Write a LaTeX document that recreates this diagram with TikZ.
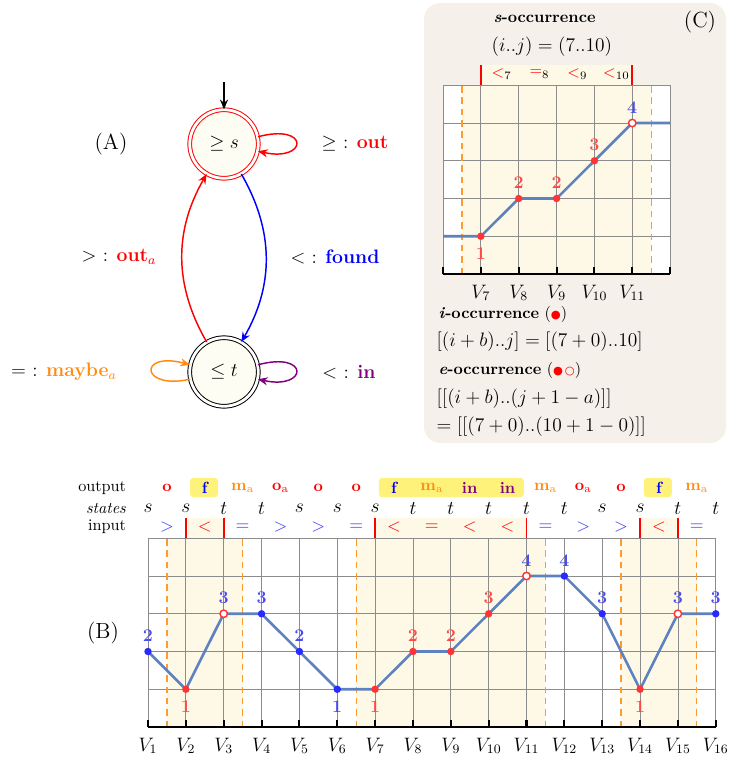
\documentclass[tikz,border=0pt]{standalone}
\usepackage{fontspec}
\newfontfamily\symfont{DejaVu Sans}
\usetikzlibrary{arrows.meta}
\definecolor{ptred}{HTML}{FF3535}
\definecolor{ptblue}{HTML}{2A2AFF}
\definecolor{lblred}{HTML}{FF4848}
\definecolor{lblblue}{HTML}{4A4AF0}
\definecolor{steel}{HTML}{5E82BF}
\definecolor{ylshade}{HTML}{FEF9E6}
\definecolor{hl}{HTML}{FFF27A}
\definecolor{beige}{HTML}{F6F0EB}
\definecolor{gridc}{HTML}{8C8C8C}
\definecolor{dorange}{HTML}{FF9A2E}
\definecolor{myorange}{HTML}{FF8C10}
\definecolor{mypurple}{HTML}{800080}
\definecolor{inblue}{HTML}{3B3BFF}
\definecolor{nodefill}{HTML}{FDFDF3}
\tikzset{
  state/.style={circle, minimum size=42.3pt, draw, double, double distance=1.7pt, line width=0.6pt, fill=nodefill, font=\large},
  lab/.style={font=\large},
  tag/.style={font=\fontsize{13.5}{16}\selectfont},
  edge/.style={line width=0.9pt, -{Stealth[length=6pt,width=5pt,inset=2pt]}},
  numr/.style={text=lblred, font=\fontsize{11}{13}\selectfont\bfseries},
  numb/.style={text=lblblue, font=\fontsize{11}{13}\selectfont\bfseries},
  vlab/.style={font=\large},
  gridl/.style={gridc, line width=0.5pt},
  dsh/.style={dorange, dashed, line width=0.8pt, dash pattern=on 4pt off 3pt},
  axisl/.style={line width=1.3pt},
  plotl/.style={steel, line width=1.6pt, line join=round},
  bar/.style={red, line width=1pt},
  formula/.style={font=\fontsize{13}{16}\selectfont, anchor=west},
  outr/.style={text=red, font=\bfseries},
  outb/.style={text=blue, font=\bfseries},
  outo/.style={text=myorange, font=\bfseries},
  outp/.style={text=mypurple, font=\bfseries},
  st/.style={font=\large},
  inb/.style={text=inblue, font=\fontsize{11}{13}\selectfont},
  inr/.style={text=red, font=\fontsize{11}{13}\selectfont},
}
\begin{document}
\begin{tikzpicture}[x=0.6173pt,y=-0.6173pt]
\useasboundingbox (0,0) rectangle (741,761);

% ---------------- Panel A ----------------
\node[tag] (tagA) at (111,144) {(A)};
\node[state, draw=red] (s) at (224,144) {$\geq s$};
\node[state, draw=black] (t) at (224,372) {$\leq t$};
\coordinate (init) at (224,82);
\draw[edge] (init) -- (s);
\draw[edge, red] (s.12) .. controls +(52,-14) and +(50,11) .. (s.-12);
\draw[edge, blue] (s) to[bend left=30] (t);
\draw[edge, red] (t) to[bend left=30] (s);
\draw[edge, mypurple] (t.12) .. controls +(52,-14) and +(50,11) .. (t.-12);
\draw[edge, myorange] (t.192) .. controls +(-50,11) and +(-52,-14) .. (t.168);
\node[lab] (la1) at (355,144) {$\geq$ : \textcolor{red}{\textbf{out}}};
\node[lab] (la2) at (119,257) {$>$ : \textcolor{red}{\textbf{out}$_a$}};
\node[lab] (la3) at (335,257) {$<$ : \textcolor{blue}{\textbf{found}}};
\node[lab] (la4) at (349,372) {$<$ : \textcolor{mypurple}{\textbf{in}}};
\node[lab] (la5) at (64,372) {$=$ : \textcolor{myorange}{\textbf{maybe}$_a$}};

% ---------------- Panel C ----------------
\fill[beige, rounded corners=10pt] (424,3) rectangle (726,443);
\node[anchor=west] (sh) at (488,19) {\textbf{\textit{s}}\textbf{-occurrence}};
\node[formula] (sf) at (486,47) {$(i..j) = (7..10)$};
\node[tag] (tagC) at (700,22) {(C)};
\begin{scope}[shift={(215.9,274)}, x=23.365pt, y=23.30pt]
  \fill[white] (6,0) rectangle (12,5);
  \fill[ylshade] (6.5,0) rectangle (11.5,5);
  \fill[ylshade] (7,5) rectangle (11,5.55);
  \foreach \k in {6,...,12} \draw[gridl] (\k,0) -- (\k,5);
  \foreach \l in {1,...,5} \draw[gridl] (6,\l) -- (12,\l);
  \draw[dsh] (6.5,0) -- (6.5,5);
  \draw[dsh] (11.5,0) -- (11.5,5);
  \draw[bar] (7,5) -- (7,5.55);
  \draw[bar] (11,5) -- (11,5.55);
  \node (ci7) at (7.55,5.3) {${\color{red}<}_{7}$};
  \node (ci8) at (8.55,5.3) {${\color{red}=}_{8}$};
  \node (ci9) at (9.55,5.3) {${\color{red}<}_{9}$};
  \node (ci10) at (10.58,5.3) {${\color{red}<}_{10}$};
  \draw[axisl] (6,0) -- (12,0);
  \foreach \k in {6,...,12} \draw[axisl] (\k,0) -- (\k,0.18);
  \foreach \k in {7,...,11} \node[vlab] (vc\k) at (\k,-0.5) {$V_{\k}$};
  \draw[plotl] (6,1) -- (7,1) -- (8,2) -- (9,2) -- (10,3) -- (11,4) -- (12,4);
  \foreach \p in {(7,1),(8,2),(9,2),(10,3)} \fill[ptred] \p circle (2.3pt);
  \filldraw[fill=white, draw=ptred, line width=0.9pt] (11,4) circle (2.3pt);
  \node[numr] (cn7) at (7,0.53) {1};
  \node[numr] (cn8) at (8,2.42) {2};
  \node[numr] (cn9) at (9,2.42) {2};
  \node[numr] (cn10) at (10,3.42) {3};
  \node[numb] (cn11) at (11,4.42) {4};
\end{scope}
\node[anchor=west] (ih) at (433,314) {\textbf{\textit{i}}\textbf{-occurrence} ({\symfont\fontsize{7}{7}\selectfont\textcolor{red}{●}})};
\node[formula] (if) at (431,342) {$[(i+b)..j] = [(7+0)..10]$};
\node[anchor=west] (eh) at (433,370) {\textbf{\textit{e}}\textbf{-occurrence} ({\symfont\fontsize{7}{7}\selectfont\textcolor{red}{●\,○}})};
\node[formula] (ef1) at (431,399) {$[[(i+b)..(j+1-a)]]$};
\node[formula] (ef2) at (431,427) {$= [[(7+0)..(10+1-0)]]$};

% ---------------- Panel B ----------------
\node[tag] (tagB) at (103,633) {(B)};
\begin{scope}[shift={(110.15,727)}, x=23.365pt, y=23.30pt]
  \fill[ylshade] (1.5,0) rectangle (3.5,5);
  \fill[ylshade] (6.5,0) rectangle (11.5,5);
  \fill[ylshade] (13.5,0) rectangle (15.5,5);
  \fill[ylshade] (2,5) rectangle (3,5.55);
  \fill[ylshade] (7,5) rectangle (11,5.55);
  \fill[ylshade] (14,5) rectangle (15,5.55);
  \foreach \k in {1,...,16} \draw[gridl] (\k,0) -- (\k,5);
  \foreach \l in {1,...,5} \draw[gridl] (1,\l) -- (16,\l);
  \foreach \d in {1.5,3.5,6.5,11.5,13.5,15.5} \draw[dsh] (\d,0) -- (\d,5);
  \foreach \r in {2,3,7,11,14,15} \draw[bar] (\r,5) -- (\r,5.55);
  \draw[axisl] (1,0) -- (16,0);
  \foreach \k in {1,...,16} {
    \draw[axisl] (\k,0) -- (\k,0.18);
    \node[vlab] (vb\k) at (\k,-0.5) {$V_{\k}$};
  }
  % row labels
  \node[anchor=east] (rowo) at (0.57,6.33) {output};
  \node[anchor=east] (rows) at (0.57,5.80) {\textit{states}};
  \node[anchor=east] (rowi) at (0.57,5.30) {input};
  % highlight boxes
  \fill[hl, rounded corners=2pt] (2.11,6.09) rectangle (2.85,6.60);
  \fill[hl, rounded corners=2pt] (7.10,6.09) rectangle (10.93,6.60);
  \fill[hl, rounded corners=2pt] (14.10,6.09) rectangle (14.84,6.60);
  % output row
  \node[outr] (o1) at (1.5,6.33) {o};
  \node[outb] (o2) at (2.5,6.33) {f};
  \node[outo] (o3) at (3.5,6.33) {m$_{\mathrm{a}}$};
  \node[outr] (o4) at (4.5,6.33) {o$_{\mathrm{a}}$};
  \node[outr] (o5) at (5.5,6.33) {o};
  \node[outr] (o6) at (6.5,6.33) {o};
  \node[outb] (o7) at (7.5,6.33) {f};
  \node[outo] (o8) at (8.5,6.33) {m$_{\mathrm{a}}$};
  \node[outp] (o9) at (9.5,6.33) {in};
  \node[outp] (o10) at (10.5,6.33) {in};
  \node[outo] (o11) at (11.5,6.33) {m$_{\mathrm{a}}$};
  \node[outr] (o12) at (12.5,6.33) {o$_{\mathrm{a}}$};
  \node[outr] (o13) at (13.5,6.33) {o};
  \node[outb] (o14) at (14.5,6.33) {f};
  \node[outo] (o15) at (15.5,6.33) {m$_{\mathrm{a}}$};
  % states row
  \foreach \k/\q in {1/s,2/s,3/t,4/t,5/s,6/s,7/s,8/t,9/t,10/t,11/t,12/t,13/s,14/s,15/t,16/t}
    \node[st] (q\k) at (\k,5.80) {$\q$};
  % input row
  \foreach \x/\sy in {1.5/>,4.5/>,5.5/>,12.5/>,13.5/>}
    \node[inb] (ig\x) at (\x,5.30) {$\sy$};
  \foreach \x in {3.5,6.5,11.5,15.5}
    \node[inb] (ie\x) at (\x,5.30) {$=$};
  \foreach \x in {2.5,7.5,9.5,10.5,14.5}
    \node[inr] (il\x) at (\x,5.30) {$<$};
  \node[inr] (ie85) at (8.5,5.30) {$=$};
  % plot
  \draw[plotl] (1,2) -- (2,1) -- (3,3) -- (4,3) -- (5,2) -- (6,1) -- (7,1) -- (8,2) -- (9,2) -- (10,3) -- (11,4) -- (12,4) -- (13,3) -- (14,1) -- (15,3) -- (16,3);
  \foreach \p in {(1,2),(4,3),(5,2),(6,1),(12,4),(13,3),(16,3)} \fill[ptblue] \p circle (2.3pt);
  \foreach \p in {(2,1),(7,1),(8,2),(9,2),(10,3),(14,1)} \fill[ptred] \p circle (2.3pt);
  \foreach \p in {(3,3),(11,4),(15,3)} \filldraw[fill=white, draw=ptred, line width=0.9pt] \p circle (2.3pt);
  % value labels
  \node[numb] (n1) at (1,2.42) {2};
  \node[numr] (n2) at (2,0.53) {1};
  \node[numb] (n3) at (3,3.42) {3};
  \node[numb] (n4) at (4,3.42) {3};
  \node[numb] (n5) at (5,2.42) {2};
  \node[numb] (n6) at (6,0.53) {1};
  \node[numr] (n7) at (7,0.53) {1};
  \node[numr] (n8) at (8,2.42) {2};
  \node[numr] (n9) at (9,2.42) {2};
  \node[numr] (n10) at (10,3.42) {3};
  \node[numb] (n11) at (11,4.42) {4};
  \node[numb] (n12) at (12,4.42) {4};
  \node[numb] (n13) at (13,3.42) {3};
  \node[numr] (n14) at (14,0.53) {1};
  \node[numb] (n15) at (15,3.42) {3};
  \node[numb] (n16) at (16,3.42) {3};
\end{scope}
\end{tikzpicture}
\end{document}
